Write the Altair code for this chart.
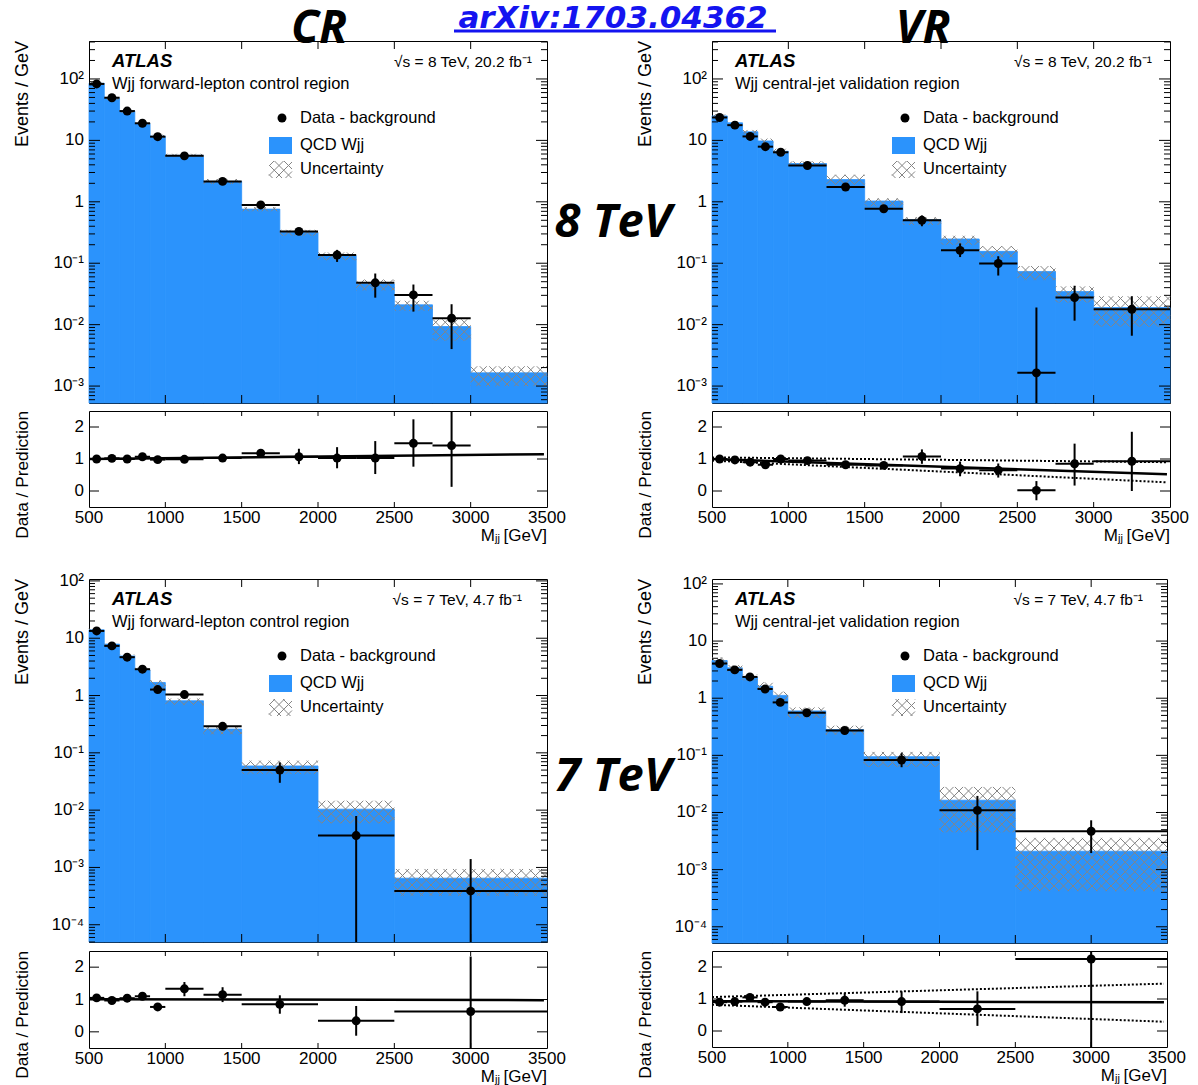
import math
import pandas as pd
import altair as alt

FONT = "Liberation Sans"
BIGFONT = "Open Sans"
BLUE = "#2b93fc"
HATCH = "#858585"

# ---------------- data ----------------
edges8 = [500, 600, 700, 800, 900, 1000, 1250, 1500, 1750, 2000, 2250, 2500, 2750, 3000, 3500]
edges7 = [500, 600, 700, 800, 900, 1000, 1250, 1500, 2000, 2500, 3500]

# 8 TeV, control region
cr8_mc = [85, 48, 30, 18.8, 11.7, 5.7, 2.15, 0.76, 0.32, 0.133, 0.046, 0.021, 0.0093, 0.00164]
cr8_ulo = [80, 45.5, 28.3, 17.7, 11.0, 5.35, 1.95, 0.70, 0.28, 0.112, 0.036, 0.0168, 0.0055, 0.0010]
cr8_uhi = [90, 50.5, 31.7, 19.9, 12.4, 6.05, 2.35, 0.82, 0.35, 0.150, 0.054, 0.0245, 0.0122, 0.0021]
cr8_dat = [83, 49.5, 30, 19, 11.5, 5.6, 2.15, 0.89, 0.33, 0.136, 0.048, 0.0305, 0.0127]
cr8_dlo = [81, 48, 29, 18.4, 11.1, 5.4, 2.05, 0.84, 0.30, 0.105, 0.0275, 0.0163, 0.004]
cr8_dhi = [85, 51, 31, 19.6, 11.9, 5.8, 2.25, 0.94, 0.36, 0.165, 0.068, 0.045, 0.0215]
cr8_r = [1.00, 1.02, 1.00, 1.07, 0.98, 0.99, 1.03, 1.18, 1.07, 1.03, 1.03, 1.49, 1.42]
cr8_rlo = [0.97, 0.99, 0.97, 1.04, 0.95, 0.96, 0.99, 1.10, 0.84, 0.71, 0.53, 0.76, 0.13]
cr8_rhi = [1.03, 1.05, 1.03, 1.10, 1.01, 1.02, 1.07, 1.26, 1.32, 1.37, 1.56, 2.24, 2.60]
cr8_fit = [1.00, 1.15]

# 8 TeV, validation region
vr8_mc = [25, 19.3, 13.8, 9.8, 6.65, 4.2, 2.3, 1.03, 0.51, 0.248, 0.156, 0.073, 0.0345, 0.019]
vr8_ulo = [23.5, 18.0, 12.8, 8.9, 6.0, 3.85, 1.9, 0.84, 0.42, 0.20, 0.125, 0.053, 0.023, 0.0093]
vr8_uhi = [26.5, 20.5, 14.8, 10.7, 7.3, 4.55, 2.76, 1.14, 0.56, 0.28, 0.19, 0.09, 0.042, 0.029]
vr8_dat = [23.6, 17.7, 11.6, 7.9, 6.4, 3.9, 1.74, 0.77, 0.50, 0.162, 0.099, 0.00164, 0.0276, 0.0178]
vr8_dlo = [22.8, 17.1, 11.1, 7.5, 6.0, 3.7, 1.6, 0.69, 0.40, 0.126, 0.063, 0.000001, 0.0116, 0.0066]
vr8_dhi = [24.4, 18.3, 12.1, 8.3, 6.8, 4.1, 1.9, 0.86, 0.60, 0.21, 0.13, 0.019, 0.043, 0.029]
vr8_r = [1.00, 0.97, 0.90, 0.82, 1.00, 0.95, 0.82, 0.80, 1.08, 0.70, 0.65, 0.02, 0.85, 0.93]
vr8_rlo = [0.96, 0.93, 0.86, 0.77, 0.95, 0.89, 0.70, 0.70, 0.85, 0.46, 0.42, -0.29, 0.17, 0.00]
vr8_rhi = [1.04, 1.01, 0.94, 0.87, 1.05, 1.01, 0.94, 0.90, 1.30, 0.92, 0.86, 0.31, 1.48, 1.85]
vr8_fit = [1.00, 0.52]
vr8_fit_up = [1.05, 0.90]
vr8_fit_dn = [0.95, 0.27]

# 7 TeV, control region
cr7_mc = [14, 7.9, 4.9, 2.8, 1.69, 0.81, 0.26, 0.059, 0.0104, 0.00065]
cr7_ulo = [13.2, 7.4, 4.6, 2.55, 1.3, 0.68, 0.21, 0.0425, 0.0059, 0.00032]
cr7_uhi = [14.8, 8.4, 5.2, 3.05, 1.85, 0.89, 0.29, 0.073, 0.0146, 0.00094]
cr7_dat = [13.4, 7.35, 4.67, 2.88, 1.27, 1.04, 0.29, 0.05, 0.0036, 0.00039]
cr7_dlo = [12.9, 7.0, 4.45, 2.72, 1.17, 0.96, 0.27, 0.03, 0.000001, 0.000001]
cr7_dhi = [13.9, 7.7, 4.9, 3.05, 1.37, 1.13, 0.31, 0.068, 0.0079, 0.0014]
cr7_r = [1.05, 0.97, 1.04, 1.10, 0.77, 1.33, 1.15, 0.85, 0.34, 0.63]
cr7_rlo = [1.00, 0.92, 0.99, 1.03, 0.71, 1.10, 0.92, 0.56, -0.12, -0.60]
cr7_rhi = [1.10, 1.02, 1.09, 1.17, 0.83, 1.54, 1.38, 1.13, 0.80, 2.33]
cr7_fit = [1.01, 0.98]

# 7 TeV, validation region
vr7_mc = [4.57, 3.4, 2.33, 1.62, 1.12, 0.6, 0.283, 0.095, 0.0164, 0.0021]
vr7_ulo = [3.9, 2.95, 2.05, 1.35, 0.92, 0.45, 0.23, 0.063, 0.0045, 0.00042]
vr7_uhi = [5.2, 3.8, 2.6, 1.9, 1.3, 0.69, 0.33, 0.115, 0.028, 0.0036]
vr7_dat = [4.05, 3.13, 2.36, 1.45, 0.845, 0.556, 0.272, 0.083, 0.0109, 0.0047]
vr7_dlo = [3.85, 2.98, 2.23, 1.36, 0.78, 0.52, 0.25, 0.062, 0.0022, 0.00195]
vr7_dhi = [4.25, 3.3, 2.5, 1.55, 0.91, 0.60, 0.295, 0.109, 0.0195, 0.0073]
vr7_r = [0.90, 0.92, 1.05, 0.90, 0.75, 0.92, 0.96, 0.92, 0.69, 2.25]
vr7_rlo = [0.86, 0.88, 1.00, 0.85, 0.69, 0.86, 0.76, 0.56, 0.16, -0.60]
vr7_rhi = [0.94, 0.96, 1.10, 0.95, 0.81, 0.98, 1.18, 1.24, 1.24, 2.60]
vr7_fit = [0.93, 0.90]
vr7_fit_up = [1.06, 1.48]
vr7_fit_dn = [0.82, 0.29]

XMIN, XMAX = 500, 3500
x_labels = [500, 1000, 1500, 2000, 2500, 3000, 3500]
x_major = [1000, 1500, 2000, 2500, 3000]
ratio_labels = [0, 1, 2]
decade_text = {2: "10²", 1: "10", 0: "1", -1: "10⁻¹", -2: "10⁻²", -3: "10⁻³", -4: "10⁻⁴"}


# ---------------- helpers ----------------
def hatch_segments(rects, s=9.5):
    out = []
    for (x0, x1, y0, y1) in rects:
        if x1 <= x0 or y1 <= y0:
            continue
        for k in range(math.ceil((y0 - x1) / s), math.floor((y1 - x0) / s) + 1):
            c = k * s
            xa, xb = max(x0, y0 - c), min(x1, y1 - c)
            if xb - xa > 0.3:
                out.append((xa, xa + c, xb, xb + c))
        for k in range(math.ceil((y0 + x0) / s), math.floor((y1 + x1) / s) + 1):
            c = k * s
            xa, xb = max(x0, c - y1), min(x1, c - y0)
            if xb - xa > 0.3:
                out.append((xa, c - xa, xb, c - xb))
    return out


def txt(text, x, y, size=16.5, align="left", baseline="middle", weight="normal",
        style="normal", font=FONT, color="black", angle=0):
    return alt.Chart(pd.DataFrame({"t": [text]})).mark_text(
        align=align, baseline=baseline, fontSize=size, fontWeight=weight,
        fontStyle=style, font=font, color=color, angle=angle
    ).encode(x=alt.value(x), y=alt.value(y), text="t:N")


def vrule(x, x2, y, y2, color="black", width=1.0, opacity=1.0):
    return alt.Chart(pd.DataFrame({"a": [0]})).mark_rule(
        color=color, strokeWidth=width, opacity=opacity
    ).encode(x=alt.value(x), x2=alt.value(x2), y=alt.value(y), y2=alt.value(y2))


def main_panel(edges, mc, ulo, uhi, dat, dlo, dhi, ydom, W, H, region, energy, ex, extra=()):
    lmin, lmax = math.log10(ydom[0]), math.log10(ydom[1])
    xs = alt.Scale(domain=[XMIN, XMAX], nice=False, zero=False)
    ys = alt.Scale(type="log", domain=list(ydom), nice=False)

    def px_x(X):
        return (X - XMIN) / (XMAX - XMIN) * W

    def px_y(V):
        return (math.log10(V) - lmin) / (lmax - lmin) * H

    def X_of(p):
        return XMIN + p / W * (XMAX - XMIN)

    def V_of(p):
        return 10 ** (lmin + p / H * (lmax - lmin))

    lo, hi = edges[:-1], edges[1:]
    hist = pd.DataFrame({"lo": lo, "hi": hi, "mc": mc})
    nd = len(dat)
    pts = pd.DataFrame({
        "lo": lo[:nd], "hi": hi[:nd],
        "c": [(a + b) / 2 for a, b in zip(lo[:nd], hi[:nd])],
        "v": dat, "elo": dlo, "ehi": dhi,
    })
    rects = [(px_x(a), px_x(b), px_y(d), px_y(u)) for a, b, d, u in zip(lo, hi, ulo, uhi)]
    rects.append((180, 203, H - 137, H - 120))  # legend swatch
    segs = hatch_segments(rects)
    hdf = pd.DataFrame({
        "x0": [X_of(s[0]) for s in segs], "y0": [V_of(s[1]) for s in segs],
        "x1": [X_of(s[2]) for s in segs], "y1": [V_of(s[3]) for s in segs],
    })

    dec_k = [k for k in range(-6, 4) if ydom[0] <= 10.0 ** k <= ydom[1]]
    decades = [10.0 ** k for k in dec_k]
    minors = [m * 10.0 ** k for k in range(-6, 4) for m in range(2, 10)
              if ydom[0] <= m * 10.0 ** k <= ydom[1]]
    ylab = pd.DataFrame({"v": decades, "t": [decade_text[k] for k in dec_k]})

    X = lambda f: alt.X(f, scale=xs, axis=None)
    Y = lambda f: alt.Y(f, scale=ys, axis=None)

    layers = [
        alt.Chart(hist).mark_rect(color=BLUE, stroke=BLUE, strokeWidth=0.8).encode(
            x=X("lo:Q"), x2="hi:Q", y=Y("mc:Q"), y2=alt.value(H)),
        alt.Chart(hdf).mark_rule(color=HATCH, strokeWidth=1).encode(
            x=X("x0:Q"), x2="x1:Q", y=Y("y0:Q"), y2="y1:Q"),
        alt.Chart(pts).mark_rule(color="black", strokeWidth=2, clip=True).encode(
            x=X("lo:Q"), x2="hi:Q", y=Y("v:Q")),
        alt.Chart(pts).mark_rule(color="black", strokeWidth=2, clip=True).encode(
            x=X("c:Q"), y=Y("elo:Q"), y2="ehi:Q"),
        alt.Chart(pts).mark_circle(color="black", size=80, opacity=1, clip=True).encode(
            x=X("c:Q"), y=Y("v:Q")),
        alt.Chart(ylab).mark_text(align="right", baseline="middle", font=FONT, fontSize=17).encode(
            x=alt.value(-5), y=Y("v:Q"), text="t:N"),
        txt("Events / GeV", -66, 0, size=18, align="right", angle=270),
    ]
    tmaj = pd.DataFrame({"v": decades})
    tmin = pd.DataFrame({"v": minors})
    for df, L in ((tmaj, 11), (tmin, 6)):
        for (a, b) in ((0, L), (W - L, W)):
            layers.append(alt.Chart(df).mark_rule(color="black", strokeWidth=1).encode(
                x=alt.value(a), x2=alt.value(b), y=Y("v:Q")))
    txm = pd.DataFrame({"v": x_major})
    for (a, b) in ((0, 8), (H - 8, H)):
        layers.append(alt.Chart(txm).mark_rule(color="black", strokeWidth=1).encode(
            x=X("v:Q"), y=alt.value(a), y2=alt.value(b)))
    layers += [
        txt("ATLAS", 23, 20, size=18.5, weight="bold", style="italic"),
        txt(region, 23, 43, size=16.5),
        txt(energy, ex, 21, size=15.5, align="right"),
        alt.Chart(pd.DataFrame({"a": [0]})).mark_circle(color="black", size=80, opacity=1).encode(
            x=alt.value(193), y=alt.value(77)),
        txt("Data - background", 211, 77),
        alt.Chart(pd.DataFrame({"a": [0]})).mark_rect(color=BLUE).encode(
            x=alt.value(180), x2=alt.value(203), y=alt.value(96), y2=alt.value(113)),
        txt("QCD Wjj", 211, 104),
        txt("Uncertainty", 211, 128),
    ]
    layers += list(extra)
    return alt.layer(*layers).properties(width=W, height=H)


def ratio_panel(edges, r, rlo, rhi, fit, W, H, up=None, dn=None):
    xs = alt.Scale(domain=[XMIN, XMAX], nice=False, zero=False)
    ys = alt.Scale(domain=[-0.5, 2.5], nice=False, zero=False)
    X = lambda f: alt.X(f, scale=xs, axis=None)
    Y = lambda f: alt.Y(f, scale=ys, axis=None)
    nd = len(r)
    lo, hi = edges[:nd], edges[1:nd + 1]
    pts = pd.DataFrame({"lo": lo, "hi": hi, "c": [(a + b) / 2 for a, b in zip(lo, hi)],
                        "r": r, "rlo": rlo, "rhi": rhi})
    fdf = pd.DataFrame({"x0": [XMIN], "x1": [3480], "y0": [fit[0]], "y1": [fit[1]]})
    layers = []
    if up is not None:
        ddf = pd.DataFrame({"x0": [XMIN, XMIN], "x1": [3480, 3480],
                            "y0": [up[0], dn[0]], "y1": [up[1], dn[1]]})
        layers.append(alt.Chart(ddf).mark_rule(color="black", strokeWidth=2, strokeDash=[2, 2]).encode(
            x=X("x0:Q"), x2="x1:Q", y=Y("y0:Q"), y2="y1:Q"))
    layers += [
        alt.Chart(fdf).mark_rule(color="black", strokeWidth=2.5).encode(
            x=X("x0:Q"), x2="x1:Q", y=Y("y0:Q"), y2="y1:Q"),
        alt.Chart(pts).mark_rule(color="black", strokeWidth=2, clip=True).encode(
            x=X("lo:Q"), x2="hi:Q", y=Y("r:Q")),
        alt.Chart(pts).mark_rule(color="black", strokeWidth=2, clip=True).encode(
            x=X("c:Q"), y=Y("rlo:Q"), y2="rhi:Q"),
        alt.Chart(pts).mark_circle(color="black", size=80, opacity=1, clip=True).encode(
            x=X("c:Q"), y=Y("r:Q")),
        alt.Chart(pd.DataFrame({"v": ratio_labels, "t": [str(v) for v in ratio_labels]})).mark_text(
            align="right", baseline="middle", font=FONT, fontSize=17).encode(
            x=alt.value(-5), y=Y("v:Q"), text="t:N"),
        alt.Chart(pd.DataFrame({"v": x_labels, "t": [str(v) for v in x_labels]})).mark_text(
            align="center", baseline="middle", font=FONT, fontSize=17).encode(
            x=X("v:Q"), y=alt.value(H + 11), text="t:N"),
        txt("Data / Prediction", -66, 0, size=17.3, align="right", angle=270),
    ]
    tmaj = pd.DataFrame({"v": ratio_labels})
    for (a, b) in ((0, 10), (W - 10, W)):
        layers.append(alt.Chart(tmaj).mark_rule(color="black", strokeWidth=1).encode(
            x=alt.value(a), x2=alt.value(b), y=Y("v:Q")))
    txm = pd.DataFrame({"v": x_major})
    for (a, b) in ((0, 5), (H - 5, H)):
        layers.append(alt.Chart(txm).mark_rule(color="black", strokeWidth=1).encode(
            x=X("v:Q"), y=alt.value(a), y2=alt.value(b)))
    layers += [
        txt("[GeV]", W, H + 34, size=17, align="right", baseline="alphabetic"),
        txt("jj", W - 47, H + 35, size=11, align="right", baseline="alphabetic"),
        txt("M", W - 52, H + 34, size=17, align="right", baseline="alphabetic"),
    ]
    return alt.layer(*layers).properties(width=W, height=H)


# ---------------- panels ----------------
W = 458
big = dict(font=BIGFONT, weight="bold", style="italic")
extraTL = [
    vrule(-88, -87, -40, -39, color="white", opacity=0),
    txt("CR", 230, 2, size=46, align="center", baseline="alphabetic", **big),
    txt("VR", 834, 2, size=46, align="center", baseline="alphabetic", **big),
    txt("arXiv:1703.04362", 524, -13, size=31, align="center", baseline="alphabetic",
        font="DejaVu Sans", weight="bold", style="italic", color="#1414f0"),
    vrule(365, 687, -10, -10, color="#1414f0", width=3),
    txt("8 TeV", 524, 196, size=47, align="center", baseline="alphabetic", **big),
]
extraBL = [
    txt("7 TeV", 524, 212, size=47, align="center", baseline="alphabetic", **big),
]

mTL = main_panel(edges8, cr8_mc, cr8_ulo, cr8_uhi, cr8_dat, cr8_dlo, cr8_dhi, (5.3e-4, 415), W, 362,
                 "Wjj forward-lepton control region", "√s = 8 TeV, 20.2 fb⁻¹", 443, extraTL)
rTL = ratio_panel(edges8, cr8_r, cr8_rlo, cr8_rhi, cr8_fit, W, 96)
mTR = main_panel(edges8, vr8_mc, vr8_ulo, vr8_uhi, vr8_dat, vr8_dlo, vr8_dhi, (5.3e-4, 415), W, 362,
                 "Wjj central-jet validation region", "√s = 8 TeV, 20.2 fb⁻¹", 440)
rTR = ratio_panel(edges8, vr8_r, vr8_rlo, vr8_rhi, vr8_fit, W, 96, vr8_fit_up, vr8_fit_dn)
mBL = main_panel(edges7, cr7_mc, cr7_ulo, cr7_uhi, cr7_dat, cr7_dlo, cr7_dhi, (5e-5, 108), W, 363,
                 "Wjj forward-lepton control region", "√s = 7 TeV, 4.7 fb⁻¹", 433, extraBL)
rBL = ratio_panel(edges7, cr7_r, cr7_rlo, cr7_rhi, cr7_fit, W, 97)
mBR = main_panel(edges7, vr7_mc, vr7_ulo, vr7_uhi, vr7_dat, vr7_dlo, vr7_dhi, (5.2e-5, 122), 455, 364,
                 "Wjj central-jet validation region", "√s = 7 TeV, 4.7 fb⁻¹", 431)
rBR = ratio_panel(edges7, vr7_r, vr7_rlo, vr7_rhi, vr7_fit, 455, 96, vr7_fit_up, vr7_fit_dn)


def spacer():
    return alt.Chart(pd.DataFrame({"a": [0]})).mark_rule(opacity=0).encode(
        x=alt.value(0), x2=alt.value(1), y=alt.value(0)
    ).properties(width=10, height=56, view=alt.ViewBackground(strokeOpacity=0))


chart = alt.concat(
    mTL, mTR, rTL, rTR, spacer(), spacer(), mBL, mBR, rBL, rBR,
    columns=2, spacing={"row": 8, "column": 165}, align="each", bounds="flush",
).properties(padding=0, background="white").configure_view(stroke="black", strokeWidth=1)

chart.save("out.html", embed_options={"renderer": "svg", "actions": False})
